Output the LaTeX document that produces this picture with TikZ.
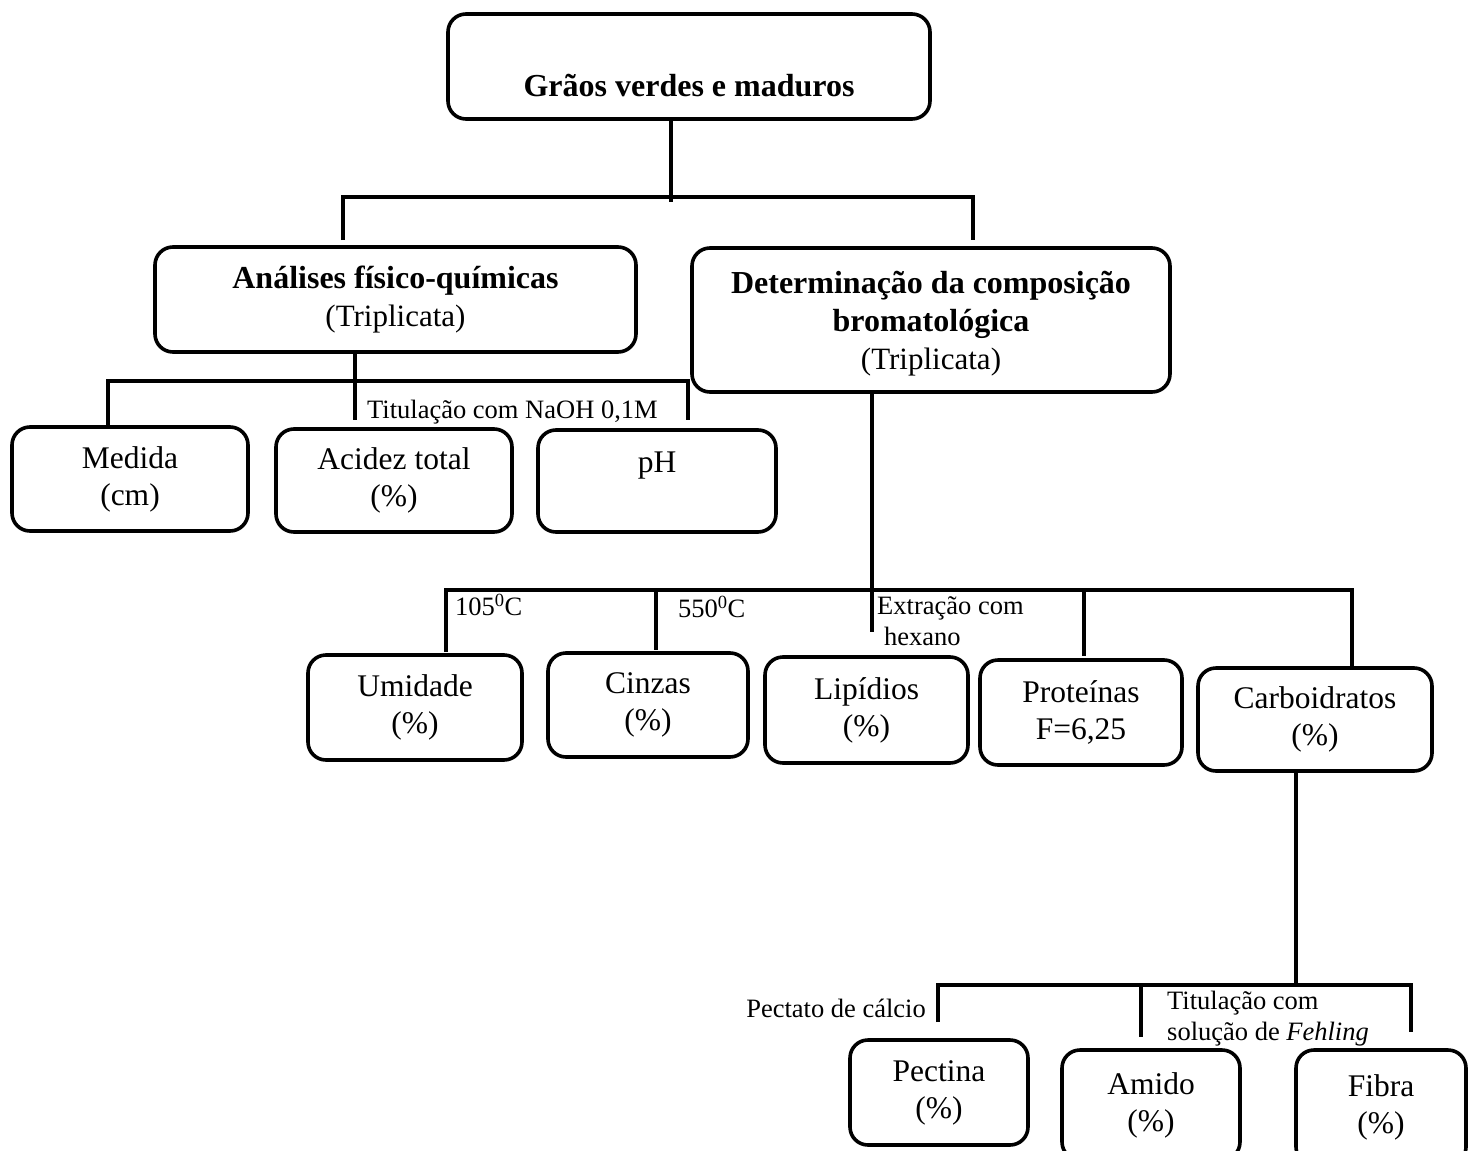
\documentclass[tikz,border=0pt]{standalone}
\usepackage{fontspec}
\setmainfont{Liberation Serif}

\begin{document}
\begin{tikzpicture}[x=1pt,y=-1pt,
  box/.style={draw, line width=3.6pt, rounded corners=18pt, inner sep=0pt, align=center},
  conn/.style={line width=3.8pt},
  head/.style={font=\fontsize{32}{38}\selectfont},
  leaf/.style={font=\fontsize{31.5}{37}\selectfont},
  note/.style={font=\fontsize{26.5}{31}\selectfont, inner sep=0pt, align=left}]
\useasboundingbox (0,0) rectangle (1470,1151);
\clip (0,0) rectangle (1470,1151);

% ---- main boxes
\node[box, minimum width=482pt, minimum height=105pt, font=\fontsize{32}{40}\selectfont]
  (top) at (689,66.5) {\mbox{}\\[21pt]\textbf{Grãos verdes e maduros}};
\node[box, head, minimum width=481pt, minimum height=105pt]
  (ana) at (395.5,299.5) {\textbf{Análises físico-químicas}\\\fontsize{31}{37}\selectfont(Triplicata)};
\node[box, head, minimum width=478pt, minimum height=144pt]
  (det) at (931,320) {\mbox{}\\[-8pt]\textbf{Determinação da composição}\\\textbf{bromatológica}\\\fontsize{31}{37}\selectfont(Triplicata)};

% ---- physico-chemical analyses
\node[box, leaf, minimum width=236pt, minimum height=104pt] (med) at (130,479) {Medida\\(cm)};
\node[box, leaf, minimum width=236pt, minimum height=103pt] (aci) at (394,480.5) {Acidez total\\(\%)};
\node[box, leaf, minimum width=238pt, minimum height=102pt] (ph) at (657,481) {pH\\\mbox{}};

% ---- proximate composition
\node[box, leaf, minimum width=214pt, minimum height=105pt] (umi) at (415,707.5) {Umidade\\(\%)};
\node[box, leaf, minimum width=200pt, minimum height=104pt] (cin) at (648,705) {Cinzas\\(\%)};
\node[box, leaf, minimum width=203pt, minimum height=106pt] (lip) at (866.5,710) {Lipídios\\(\%)};
\node[box, leaf, minimum width=202pt, minimum height=105pt] (pro) at (1081,712.5) {Proteínas\\F=6,25};
\node[box, leaf, minimum width=234pt, minimum height=103pt] (car) at (1315,719.5) {Carboidratos\\(\%)};

% ---- carbohydrate fractions
\node[box, leaf, minimum width=178pt, minimum height=105pt] (pec) at (939,1092.5) {Pectina\\(\%)};
\node[box, leaf, minimum width=178pt, minimum height=110pt] (ami) at (1151,1105) {Amido\\(\%)};
\node[box, leaf, minimum width=170pt, minimum height=115pt] (fib) at (1381,1107.5) {Fibra\\(\%)};

% ---- junction points
\coordinate (t0) at (671,202);
\coordinate (tL) at (343,197);
\coordinate (tR) at (973,197);
\coordinate (tLd) at (343,240);
\coordinate (tRd) at (973,240);

\coordinate (a0) at (355,420);
\coordinate (aL) at (108,381);
\coordinate (aR) at (688,381);
\coordinate (aRd) at (688,420);

\coordinate (d0) at (872,632);
\coordinate (dL) at (446,590);
\coordinate (dR) at (1352,590);
\coordinate (dLd) at (446,652);
\coordinate (d2) at (656,590);
\coordinate (d2d) at (656,650);
\coordinate (d4) at (1084,590);
\coordinate (d4d) at (1084,656);

\coordinate (c0) at (1296,985);
\coordinate (cL) at (938,985);
\coordinate (cR) at (1411,985);
\coordinate (cLd) at (938,1022);
\coordinate (c2) at (1141,985);
\coordinate (c2d) at (1141,1037);
\coordinate (cRd) at (1411,1032);

% ---- connectors
\draw[conn] (top.south -| t0) -- (t0);
\draw[conn] (tLd) -- (tL) -- (tR) -- (tRd);

\draw[conn] (ana.south -| a0) -- (a0);
\draw[conn] (med.north -| aL) -- (aL) -- (aR) -- (aRd);

\draw[conn] (det.south -| d0) -- (d0);
\draw[conn] (dLd) -- (dL) -- (dR) -- (car.north -| dR);
\draw[conn] (d2) -- (d2d);
\draw[conn] (d4) -- (d4d);

\draw[conn] (car.south -| c0) -- (c0);
\draw[conn] (cLd) -- (cL) -- (cR) -- (cRd);
\draw[conn] (c2) -- (c2d);

% ---- method notes
\node[note, anchor=west] (n1) at (367,412) {Titulação com NaOH 0,1M};
\node[note, anchor=west] (n2) at (455,605) {105\textsuperscript{0}C};
\node[note, anchor=west] (n3) at (678,607) {550\textsuperscript{0}C};
\node[note, anchor=north west] (n4) at (877,596) {Extração com\\\hspace{7pt}hexano};
\node[note, anchor=east] (n5) at (926,1008) {Pectato de cálcio};
\node[note, anchor=north west] (n6) at (1167,991) {Titulação com\\solução de \textit{Fehling}};
\end{tikzpicture}
\end{document}
